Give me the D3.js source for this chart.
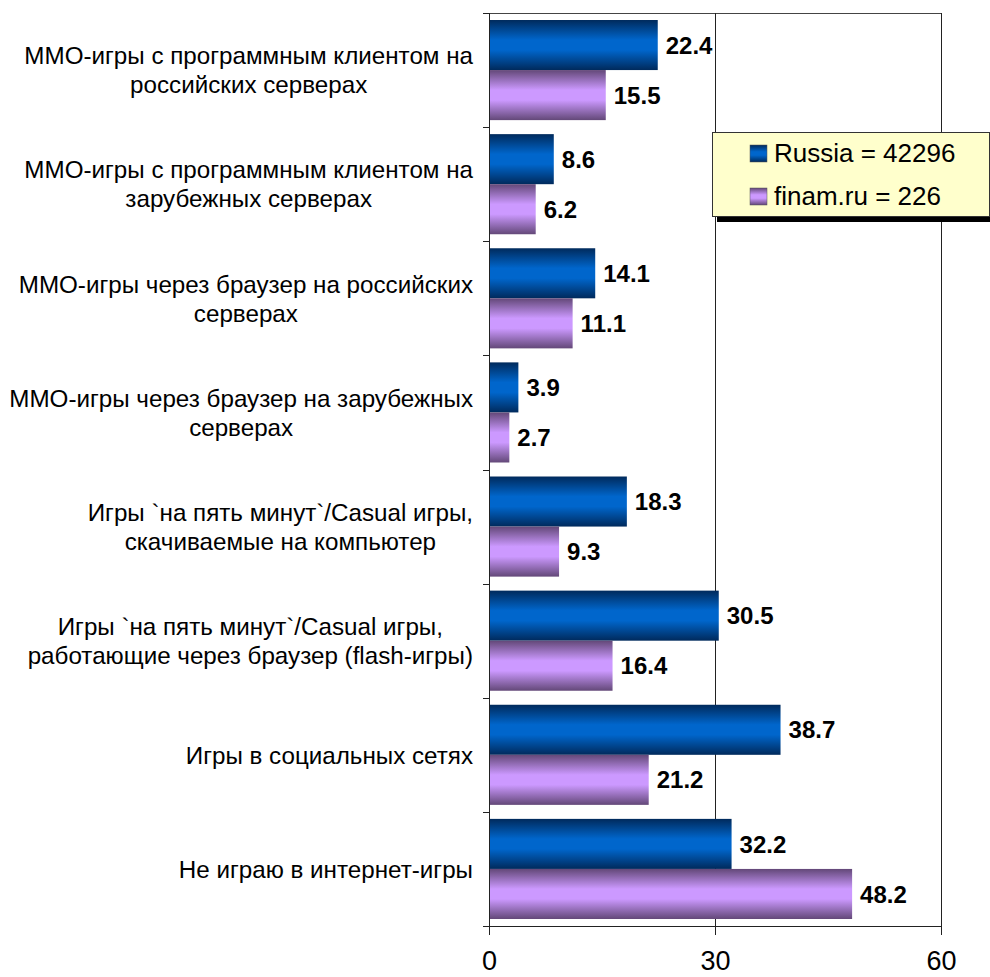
<!DOCTYPE html>
<html>
<head>
<meta charset="utf-8">
<script src="https://cdn.jsdelivr.net/npm/d3@7/dist/d3.min.js"></script>
<style>
  html, body { margin: 0; padding: 0; background: #fff; }
  svg { display: block; font-family: Arial, "Liberation Sans", sans-serif; }
</style>
</head>
<body>
<svg id="chart" width="990" height="977"></svg>
<script>
// Category labels, one entry per line of the wrapped label
const categories = [
  ["ММО-игры с программным клиентом на", "российских серверах"],
  ["ММО-игры с программным клиентом на", "зарубежных серверах"],
  ["ММО-игры через браузер на российских", "серверах"],
  ["ММО-игры через браузер на зарубежных", "серверах"],
  ["Игры `на пять минут`/Casual игры,", "скачиваемые на компьютер"],
  ["Игры `на пять минут`/Casual игры,", "работающие через браузер (flash-игры)"],
  ["Игры в социальных сетях"],
  ["Не играю в интернет-игры"]
];
const seriesNames = ["Russia = 42296", "finam.ru = 226"];
const russiaValues = [22.4, 8.6, 14.1, 3.9, 18.3, 30.5, 38.7, 32.2];
const finamValues  = [15.5, 6.2, 11.1, 2.7, 9.3, 16.4, 21.2, 48.2];
const xTicks = [0, 30, 60];

const svg = d3.select("#chart");
const plot = { left: 489, right: 941, top: 13, bottom: 926 };

const x = d3.scaleLinear().domain([0, 60]).range([plot.left, plot.right]);
const y = d3.scaleBand().domain(d3.range(categories.length)).range([plot.top, plot.bottom]).padding(0);
const ySub = d3.scaleBand().domain([0, 1]).range([0, y.bandwidth()]).paddingInner(0).paddingOuter(0.14);

// Cylinder-like shading for each series
const defs = svg.append("defs");
const shades = [
  { id: "gBlue", dark: "#002a5c", light: "#0066cc" },
  { id: "gPurple", dark: "#634878", light: "#cc99ff" }
];
shades.forEach(s => {
  const g = defs.append("linearGradient").attr("id", s.id)
    .attr("x1", 0).attr("y1", 0).attr("x2", 0).attr("y2", 1);
  g.append("stop").attr("offset", "0%").attr("stop-color", s.dark);
  g.append("stop").attr("offset", "40%").attr("stop-color", s.light);
  g.append("stop").attr("offset", "60%").attr("stop-color", s.light);
  g.append("stop").attr("offset", "100%").attr("stop-color", s.dark);
});
const fills = ["url(#gBlue)", "url(#gPurple)"];

// Plot frame and vertical gridline
const lineColor = "#222";
svg.append("line").attr("x1", plot.left - 6).attr("x2", plot.right)
  .attr("y1", plot.top + 0.5).attr("y2", plot.top + 0.5).attr("stroke", "#444");
svg.append("line").attr("x1", plot.right + 0.5).attr("x2", plot.right + 0.5)
  .attr("y1", plot.top).attr("y2", plot.bottom).attr("stroke", lineColor);
svg.append("g").selectAll("line").data([30]).join("line")
  .attr("x1", d => Math.round(x(d)) + 0.5).attr("x2", d => Math.round(x(d)) + 0.5)
  .attr("y1", plot.top).attr("y2", plot.bottom).attr("stroke", lineColor);

// Bars
const series = [russiaValues, finamValues];
series.forEach((vals, si) => {
  svg.append("g").selectAll("rect").data(vals).join("rect")
    .attr("x", x(0))
    .attr("y", (d, i) => y(i) + ySub(si))
    .attr("width", d => x(d) - x(0))
    .attr("height", ySub.bandwidth())
    .attr("fill", fills[si]);
  svg.append("g").selectAll("text").data(vals).join("text")
    .attr("x", d => x(d) + 8)
    .attr("y", (d, i) => y(i) + ySub(si) + ySub.bandwidth() / 2)
    .attr("dy", "0.36em")
    .attr("font-size", 24).attr("font-weight", "bold").attr("fill", "#000")
    .text(d => d.toFixed(1));
});

// X axis
const xAxis = svg.append("g").attr("transform", `translate(0,${plot.bottom})`)
  .call(d3.axisBottom(x).tickValues(xTicks).tickSize(9).tickPadding(16).tickFormat(d3.format("d")));
xAxis.select(".domain").remove();
xAxis.append("line").attr("x1", plot.left - 6).attr("x2", plot.right).attr("y1", 0.5).attr("y2", 0.5).attr("stroke", lineColor);
xAxis.selectAll(".tick line").attr("stroke", lineColor);
xAxis.selectAll(".tick text").attr("font-size", 27).attr("fill", "#000")
  .attr("font-family", "Arial, 'Liberation Sans', sans-serif");

// Y axis: line and category ticks on band boundaries
svg.append("line").attr("x1", plot.left + 0.5).attr("x2", plot.left + 0.5)
  .attr("y1", plot.top).attr("y2", plot.bottom).attr("stroke", lineColor);
svg.append("g").selectAll("line").data(d3.range(categories.length + 1)).join("line")
  .attr("x1", plot.left - 6).attr("x2", plot.left)
  .attr("y1", i => Math.round(plot.top + i * y.step()) + 0.5)
  .attr("y2", i => Math.round(plot.top + i * y.step()) + 0.5)
  .attr("stroke", lineColor);

// Category labels: block right-aligned to the axis, lines centred inside the block
const lineH = 29;
const labelRight = 473;
categories.forEach((lines, i) => {
  const t = svg.append("text").attr("font-size", 24.2).attr("fill", "#000").attr("text-anchor", "middle");
  const cy = y(i) + y.bandwidth() / 2;
  const spans = lines.map((ln, k) => t.append("tspan")
    .attr("y", cy + (k - (lines.length - 1) / 2) * lineH)
    .attr("dy", "0.36em").text(ln));
  const w = d3.max(spans, s => s.node().getComputedTextLength());
  spans.forEach(s => s.attr("x", labelRight - w / 2));
});

// Legend
const lg = svg.append("g").attr("transform", "translate(712,132)");
lg.append("rect").attr("x", 5).attr("y", 6).attr("width", 277).attr("height", 84).attr("fill", "#000");
lg.append("rect").attr("x", 0.5).attr("y", 0.5).attr("width", 277).attr("height", 84)
  .attr("fill", "#ffffcc").attr("stroke", "#333");
seriesNames.forEach((name, si) => {
  const row = lg.append("g").attr("transform", `translate(0,${si * 43})`);
  row.append("rect").attr("x", 38).attr("y", 13).attr("width", 17).attr("height", 17)
    .attr("fill", fills[si]).attr("stroke", "#555").attr("stroke-width", 0.5);
  row.append("text").attr("x", 62).attr("y", 30).attr("font-size", 26).attr("fill", "#000").text(name);
});
</script>
</body>
</html>
